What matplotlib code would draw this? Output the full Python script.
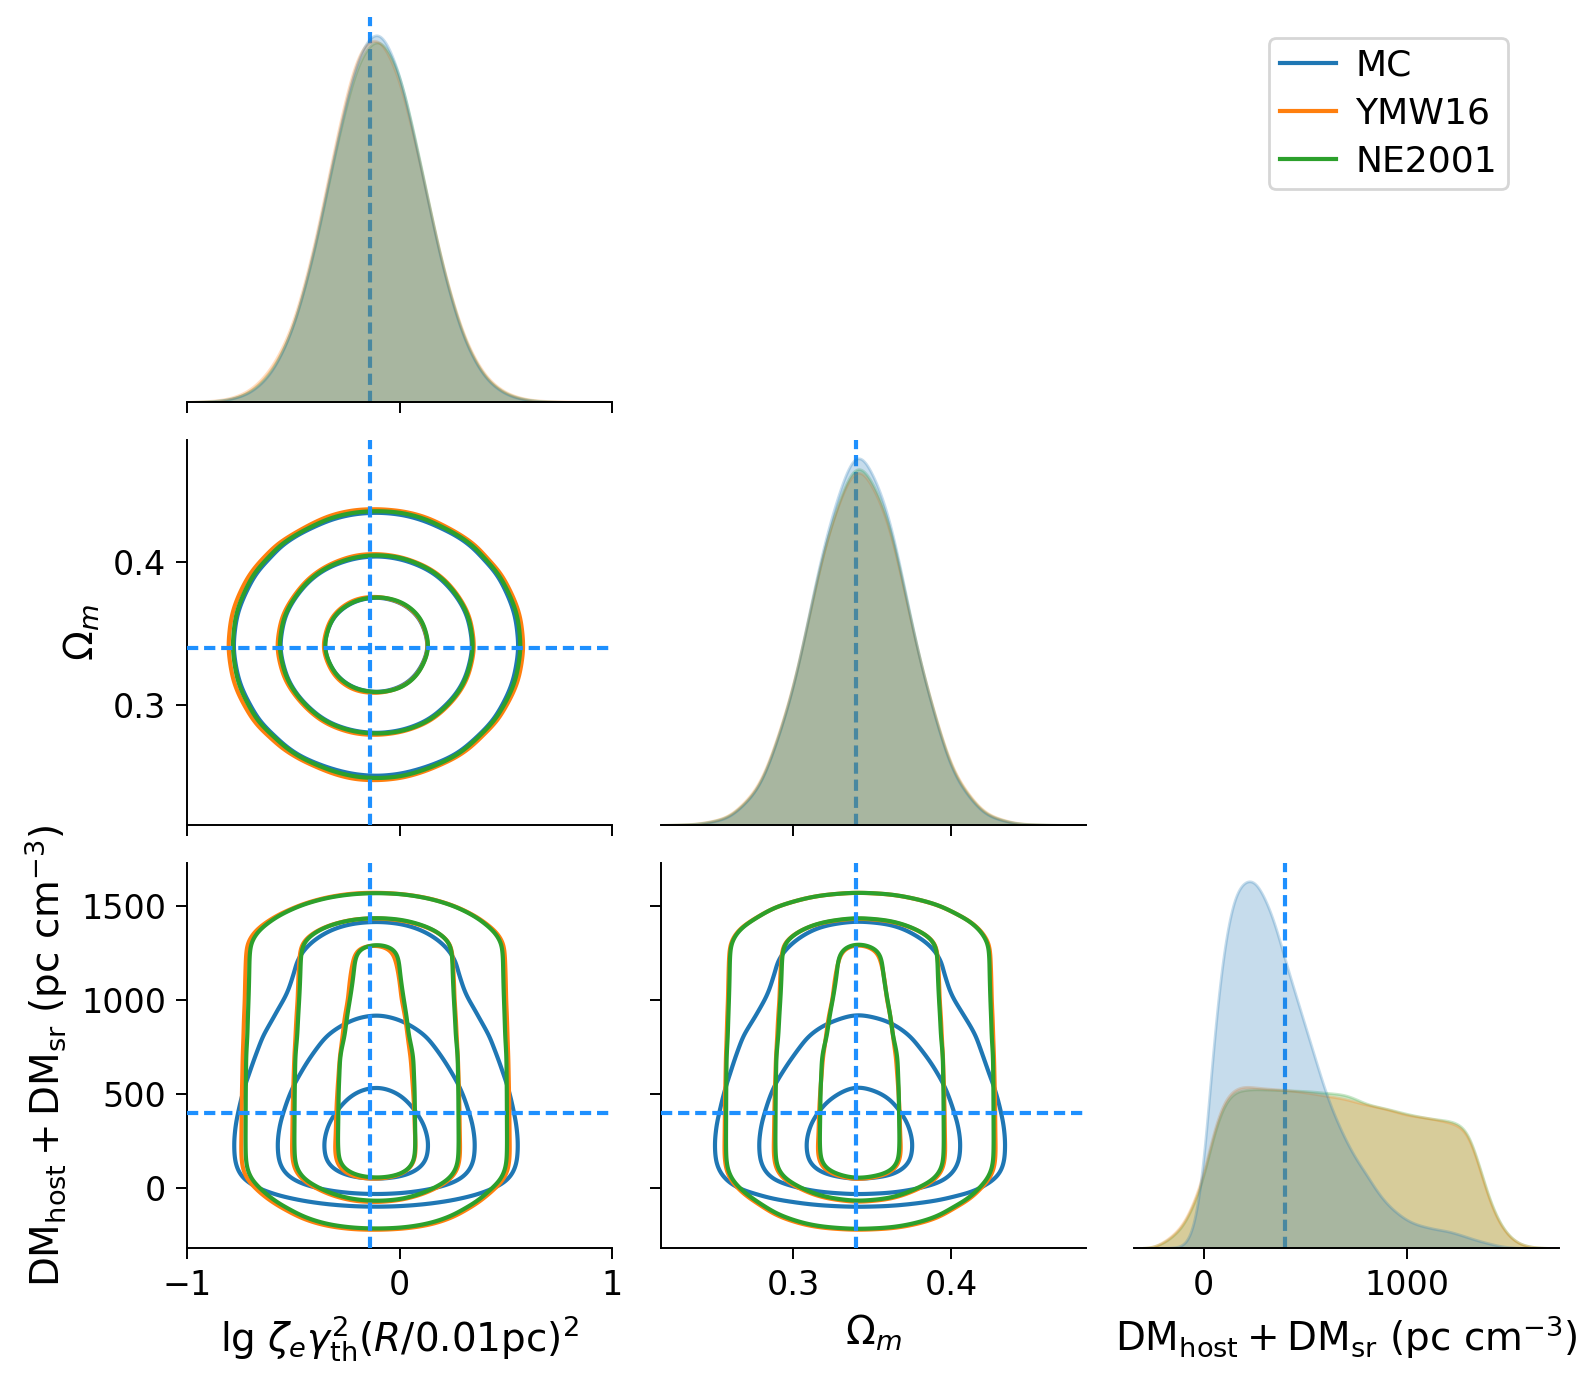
import numpy as np
import matplotlib
matplotlib.use('Agg')
import matplotlib.pyplot as plt

# series and colours
series = ['MC', 'YMW16', 'NE2001']
colors = ['#1f77b4', '#ff7f0e', '#2ca02c']
truth_color = '#1E90FF'

# injected (true) values, dashed lines
truth_lg = -0.14
truth_om = 0.34
truth_dm = 400

# marginal densities (relative heights)
lg_grid = [-1.0, -0.9, -0.8, -0.7, -0.6, -0.5, -0.4, -0.3, -0.2, -0.1, 0.0,
           0.1, 0.2, 0.3, 0.4, 0.5, 0.6, 0.7, 0.8, 0.9, 1.0]
lg_mc = [0, 0.001, 0.006, 0.023, 0.074, 0.19, 0.40, 0.677, 0.916, 0.999, 0.877,
         0.62, 0.354, 0.162, 0.06, 0.018, 0.004, 0.001, 0, 0, 0]
lg_ymw = [0, 0.002, 0.008, 0.03, 0.088, 0.20, 0.41, 0.69, 0.93, 0.975, 0.86,
          0.62, 0.36, 0.17, 0.066, 0.022, 0.006, 0.002, 0.001, 0, 0]
lg_ne = [0, 0.001, 0.006, 0.025, 0.078, 0.19, 0.395, 0.67, 0.90, 0.975, 0.88,
         0.625, 0.357, 0.165, 0.062, 0.02, 0.005, 0.001, 0, 0, 0]

om_grid = [0.20, 0.22, 0.24, 0.26, 0.28, 0.30, 0.32, 0.34, 0.36, 0.38, 0.40,
           0.42, 0.44, 0.46, 0.48, 0.50]
om_mc = [0, 0.0001, 0.002, 0.017, 0.099, 0.345, 0.747, 0.998, 0.823, 0.418,
         0.132, 0.026, 0.003, 0.0005, 0.0001, 0]
om_ymw = [0, 0.0002, 0.003, 0.02, 0.105, 0.35, 0.735, 0.955, 0.80, 0.42,
          0.14, 0.03, 0.004, 0.0005, 0, 0]
om_ne = [0, 0.0002, 0.0025, 0.019, 0.10, 0.345, 0.735, 0.965, 0.81, 0.418,
         0.136, 0.028, 0.0035, 0.0005, 0, 0]

dm_grid = [-300, -250, -200, -150, -100, -50, 0, 50, 100, 150,
           200, 250, 300, 350, 400, 450, 500, 550, 600, 650,
           700, 750, 800, 850, 900, 950, 1000, 1050, 1100, 1150,
           1200, 1250, 1300, 1350, 1400, 1450, 1500, 1550, 1600, 1650, 1700]
dm_mc = [0, 0, 0, 0.001, 0.004, 0.04, 0.21, 0.57, 0.82, 0.955,
         0.995, 0.997, 0.95, 0.88, 0.78, 0.69, 0.60, 0.51, 0.42, 0.35,
         0.29, 0.24, 0.20, 0.155, 0.12, 0.095, 0.075, 0.063, 0.056, 0.05,
         0.046, 0.038, 0.029, 0.02, 0.013, 0.006, 0.002, 0, 0, 0, 0]
dm_ymw = [0, 0.002, 0.015, 0.035, 0.065, 0.12, 0.20, 0.32, 0.40, 0.43,
          0.438, 0.435, 0.432, 0.43, 0.428, 0.425, 0.421, 0.417, 0.412, 0.408,
          0.403, 0.395, 0.388, 0.382, 0.376, 0.368, 0.36, 0.356, 0.352, 0.347,
          0.341, 0.333, 0.31, 0.23, 0.135, 0.07, 0.032, 0.012, 0.004, 0.001, 0]
dm_ne = [0, 0.002, 0.013, 0.032, 0.06, 0.115, 0.19, 0.31, 0.39, 0.422,
         0.428, 0.43, 0.429, 0.428, 0.427, 0.426, 0.425, 0.423, 0.42, 0.418,
         0.414, 0.403, 0.39, 0.383, 0.377, 0.37, 0.363, 0.357, 0.352, 0.348,
         0.345, 0.338, 0.315, 0.235, 0.14, 0.073, 0.033, 0.012, 0.004, 0.001, 0]

# contour iso-proportion levels (mass below level)
contour_levels = [0.011, 0.13, 0.56]

lg_label = r'lg $\zeta_e\gamma_{\rm th}^2(R/0.01{\rm pc})^2$'
om_label = r'$\Omega_m$'
dm_label = r'$\rm DM_{host}+DM_{sr}\ (pc\ cm^{-3})$'


def smooth(grid, vals, fine, h):
    y = np.interp(fine, grid, vals, left=0, right=0)
    d = fine[1] - fine[0]
    n = int(4 * h / d)
    k = np.exp(-0.5 * (np.arange(-n, n + 1) * d / h) ** 2)
    return np.convolve(y, k / k.sum(), mode='same')


def iso_levels(z, props):
    v = np.sort(z.ravel())
    c = np.cumsum(v)
    c /= c[-1]
    return [np.interp(p, c, v) for p in props]


lg_f = np.linspace(-1.0, 1.0, 401)
om_f = np.linspace(0.20, 0.50, 301)
dm_f = np.linspace(-300, 1700, 401)

lg_d = [smooth(lg_grid, v, lg_f, 0.04) for v in (lg_mc, lg_ymw, lg_ne)]
om_d = [smooth(om_grid, v, om_f, 0.006) for v in (om_mc, om_ymw, om_ne)]
dm_d = [smooth(dm_grid, v, dm_f, 25) for v in (dm_mc, dm_ymw, dm_ne)]

plt.rcParams['font.family'] = 'DejaVu Sans'
plt.rcParams['font.size'] = 12
plt.rcParams['axes.labelsize'] = 14
plt.rcParams['axes.linewidth'] = 0.7
plt.rcParams['xtick.major.width'] = 0.7
plt.rcParams['ytick.major.width'] = 0.7
plt.rcParams['xtick.major.size'] = 4
plt.rcParams['ytick.major.size'] = 4

W, H = 1578, 1381
fig = plt.figure(figsize=(W / 200, H / 200), dpi=200)

lefts = [187, 660.5, 1133.5]
tops = [17, 440, 863]
aw, ah = 425, 385

axes = {}
for r in range(3):
    for c in range(r + 1):
        axes[r, c] = fig.add_axes([lefts[c] / W, 1 - (tops[r] + ah) / H, aw / W, ah / H])

vars_f = [lg_f, om_f, dm_f]
vars_d = [lg_d, om_d, dm_d]
truths = [truth_lg, truth_om, truth_dm]
xlims = [(-1, 1), (0.216, 0.485), (-345, 1746)]
ylims = [(-1, 1), (0.216, 0.485), (-320, 1728)]
ticks = [[-1, 0, 1], [0.3, 0.4], [0, 500, 1000, 1500]]
xticks_diag = [[-1, 0, 1], [0.3, 0.4], [0, 1000]]
dash = dict(color=truth_color, ls=(0, (2.7, 1.4)), lw=1.5)

for i in range(3):
    ax = axes[i, i]
    ax.axvline(truths[i], zorder=0.5, **dash)
    # first hue level ends up on top of the fills
    for k in (2, 1, 0):
        ax.fill_between(vars_f[i], 0, vars_d[i][k], color=colors[k], alpha=0.25,
                        lw=1, zorder=1)
    ax.set_xlim(xlims[i])
    ax.set_ylim(bottom=0)
    ax.set_yticks([])
    ax.set_xticks(xticks_diag[i])
    for s in ['left', 'top', 'right']:
        ax.spines[s].set_visible(False)
    if i < 2:
        ax.set_xticklabels([])

for r in range(1, 3):
    for c in range(r):
        ax = axes[r, c]
        for k in range(3):
            z = np.outer(vars_d[r][k], vars_d[c][k])
            lev = iso_levels(z, contour_levels)
            ax.contour(vars_f[c], vars_f[r], z, levels=lev, colors=[colors[k]],
                       linewidths=1.5)
        ax.axvline(truths[c], zorder=3, **dash)
        ax.axhline(truths[r], zorder=3, **dash)
        ax.set_xlim(xlims[c])
        ax.set_ylim(ylims[r])
        ax.set_xticks(ticks[c])
        ax.set_yticks(ticks[r])
        for s in ['top', 'right']:
            ax.spines[s].set_visible(False)
        if r < 2:
            ax.set_xticklabels([])
        if c > 0:
            ax.set_yticklabels([])

axes[1, 0].set_ylabel(om_label)
axes[2, 0].set_ylabel(dm_label)
axes[2, 0].set_xlabel(lg_label)
axes[2, 1].set_xlabel(om_label)
axes[2, 2].set_xlabel(dm_label)

handles = [plt.Line2D([], [], color=colors[k], lw=1.5) for k in range(3)]
fig.legend(handles, series, loc='upper right', bbox_to_anchor=(1508 / W, 1 - 38 / H),
           borderaxespad=0, handlelength=1.55, handletextpad=0.55,
           labelspacing=0.38, borderpad=0.3, fontsize=13)

fig.savefig('out.png', dpi=200)
